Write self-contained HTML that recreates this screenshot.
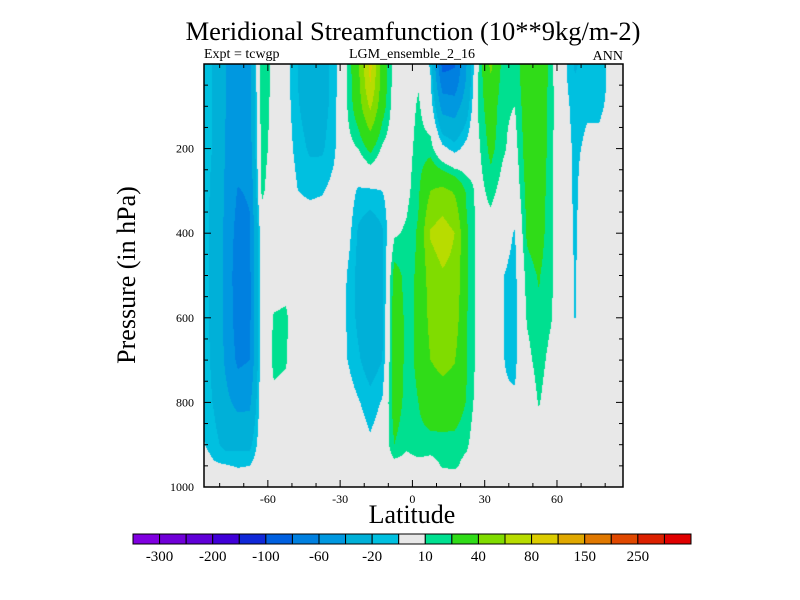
<!DOCTYPE html>
<html><head><meta charset="utf-8"><style>
body{margin:0;background:#fff;width:800px;height:600px;overflow:hidden;position:relative;font-family:"Liberation Serif",serif}
.t{position:absolute;white-space:nowrap;color:#000}
</style></head><body>
<div class="t" style="left:0;width:826px;text-align:center;top:16px;font-size:26.5px">Meridional Streamfunction (10**9kg/m-2)</div>
<div class="t" style="left:204px;top:47px;font-size:14px">Expt = tcwgp</div>
<div class="t" style="left:312px;width:200px;text-align:center;top:47px;font-size:14px">LGM_ensemble_2_16</div>
<div class="t" style="left:560px;width:63px;text-align:right;top:49px;font-size:14px">ANN</div>
<div class="t" style="left:27px;width:200px;text-align:center;top:260px;font-size:26px;transform:rotate(-90deg)">Pressure (in hPa)</div>
<div class="t" style="left:312px;width:200px;text-align:center;top:500px;font-size:26px">Latitude</div>
<canvas id="cv" width="800" height="600" style="position:absolute;left:0;top:0"></canvas>
<svg id="sv" width="800" height="600" style="position:absolute;left:0;top:0"></svg>
<script>
const lats=[-87.5,-82.5,-77.5,-72.5,-67.5,-62.5,-57.5,-52.5,-47.5,-42.5,-37.5,-32.5,-27.5,-22.5,-17.5,-12.5,-7.5,-2.5,2.5,7.5,12.5,17.5,22.5,27.5,32.5,37.5,42.5,47.5,52.5,57.5,62.5,67.5,72.5,77.5,82.5,87.5];
const pressures=[0,50,100,200,300,400,500,600,700,800,900,950,1000];
const psiByLat=[
[-14,-14,-14,-14,-14,-14,-14,-14,-13,-12,-8,-3,0],
[-21,-21,-21,-21,-23,-24,-24,-24,-23,-21,-15,-8,0],
[-40,-40,-40,-41,-43,-44,-45,-45,-43,-35,-25,-9,0],
[-48,-48,-50,-52,-61,-68,-72,-70,-64,-45,-24,-11,0],
[-45,-45,-46,-50,-58,-62,-64,-64,-60,-44,-24,-10,0],
[18,18,18,16,13,0,0,0,0,0,0,0,0],
[6,6,5,4,0,0,3,11,12,8,0,0,0],
[-5,-5,-4,-3,0,0,5,12,11,6,0,0,0],
[-20,-20,-19,-15,-10,-3,0,0,0,0,0,0,0],
[-28,-28,-27,-22,-12,-3,0,0,0,0,0,0,0],
[-28,-28,-27,-22,-11,-2,0,0,0,0,0,0,0],
[-15,-15,-14,-12,-6,0,0,0,0,0,0,0,0],
[8,8,8,5,0,-2,-9.5,-10,-9,-3,0,0,0],
[36,34,30,10,-12,-22,-24,-23,-18,-9,-3,0,0],
[88,80,64,24,-12,-30,-34,-33,-28,-15,-8,0,0],
[30,30,27,8,-10,-22,-24,-24,-20,-9,-3,0,0],
[4,4,3,2,0,8,26,30,30,28,20,5,0],
[2,2,2,4,6,12,16,17,17,16,12,5,0],
[5,9,12,15,18,22,22,22,22,20,16,6,0],
[-12,-8,-2,15,40,62,50,46,40,30,15,5,0],
[-88,-68,-48,-6,45,70,58,55,45,32,15,11,0],
[-82,-70,-50,-15,38,60,55,50,41,30,15,12,0],
[-40,-36,-28,-5,18,22,22,21,21,19,12,6,0],
[10,12,12,8,5,5,5,5,5,3,0,0,0],
[45,35,30,24,14,4,0,0,0,0,0,0,0],
[15,14,12,12,5,-4,-9.5,-9.5,-9.5,-9,-2,0,0],
[15,13,10,5,0,-11,-14,-14,-13,-8,-2,0,0],
[28,28,28,27,24,22,15,11,6,0,0,0,0],
[35,35,34,33,30,27,21,18,15,11,3,0,0],
[14,14,14,13,12,12,12,11,6,2,0,0,0],
[-5,-5,-4,-2,0,0,0,0,0,0,0,0,0],
[-22,-18,-15,-13,-13,-12,-11,-10.5,-3,0,0,0,0],
[-14,-13,-12,-7,0,0,0,0,0,0,0,0,0],
[-13,-13,-12,-7,0,0,0,0,0,0,0,0,0],
[-8,-8,-7,-3,0,0,0,0,0,0,0,0,0],
[0,0,0,0,0,0,0,0,0,0,0,0,0]];
const levels=[-300,-250,-200,-150,-100,-80,-60,-40,-20,-10,10,20,40,60,80,100,150,200,250,300];
const colors=["#8000e0","#7000d8","#6000d8","#4000d8","#1028d8","#0060e0","#0080e0","#0098e0","#00b0d8","#00c0e0","#e8e8e8","#00e090","#30dc18","#80dc00","#b8dc00","#dccc00","#e0a800","#e07800","#e04800","#dc2000","#e00000"];
const cbLabels=["-300","-200","-100","-60","-20","10","40","80","150","250"];
const xTicks=[-60,-30,0,30,60];
const yTicks=[200,400,600,800,1000];

const X0=204,X1=623,Y0=64,Y1=487,LAT0=-86.5,LAT1=87.4;
const xS=l=>X0+(l-LAT0)/(LAT1-LAT0)*(X1-X0);
const yS=p=>Y0+p/1000*(Y1-Y0);
const xInv=x=>LAT0+(x-X0)/(X1-X0)*(LAT1-LAT0);
const yInv=y=>(y-Y0)/(Y1-Y0)*1000;
function idx(arr,v){let i=0;while(i<arr.length-2&&v>arr[i+1])i++;let f=(v-arr[i])/(arr[i+1]-arr[i]);return [i,Math.max(0,Math.min(1,f))];}
function val(l,p){const [i,fx]=idx(lats,l),[j,fy]=idx(pressures,p);
 const a=psiByLat[i][j],b=psiByLat[i+1][j],c=psiByLat[i][j+1],d=psiByLat[i+1][j+1];
 return (a*(1-fx)+b*fx)*(1-fy)+(c*(1-fx)+d*fx)*fy;}
function cls(v){let k=0;while(k<levels.length&&v>=levels[k])k++;return k;}
const cv=document.getElementById('cv'),ctx=cv.getContext('2d');
const rgb=colors.map(c=>[parseInt(c.substr(1,2),16),parseInt(c.substr(3,2),16),parseInt(c.substr(5,2),16)]);
const W=X1-X0,H=Y1-Y0,img=ctx.createImageData(W,H);
for(let y=0;y<H;y++)for(let x=0;x<W;x++){const k=cls(val(xInv(X0+x+0.5),yInv(Y0+y+0.5)));const o=(y*W+x)*4;img.data[o]=rgb[k][0];img.data[o+1]=rgb[k][1];img.data[o+2]=rgb[k][2];img.data[o+3]=255;}
ctx.putImageData(img,X0,Y0);

const NS='http://www.w3.org/2000/svg',sv=document.getElementById('sv');
function mk(t,a){const e=document.createElementNS(NS,t);for(const k in a)e.setAttribute(k,a[k]);sv.appendChild(e);return e;}
let fr=mk('rect',{x:X0,y:Y0,width:W,height:H,fill:'none',stroke:'#000','stroke-width':1.5});


for(let l=-80;l<=80;l+=10){const maj=l%30===0,len=maj?7:4,x=xS(l);
 mk('line',{x1:x,x2:x,y1:Y1,y2:Y1-len,stroke:'#000'});mk('line',{x1:x,x2:x,y1:Y0,y2:Y0+len,stroke:'#000'});}
for(let p=50;p<1000;p+=50){const len=p%200===0?7:4,y=yS(p);
 mk('line',{x1:X0,x2:X0+len,y1:y,y2:y,stroke:'#000'});mk('line',{x1:X1,x2:X1-len,y1:y,y2:y,stroke:'#000'});}
xTicks.forEach(l=>{const t=mk('text',{x:xS(l),y:Y1+16,'text-anchor':'middle','font-size':12,'font-family':'Liberation Serif,serif'});t.textContent=l;
 
 });
yTicks.forEach(p=>{const t=mk('text',{x:X0-10,y:yS(p)+4,'text-anchor':'end','font-size':12,'font-family':'Liberation Serif,serif'});t.textContent=p;
 
 });
const CB0=133,CB1=691,bw=(CB1-CB0)/colors.length;
colors.forEach((c,i)=>{const r=mk('rect',{x:CB0+i*bw,y:534,width:bw,height:10,fill:c,stroke:'#000','stroke-width':1});
 
 });
cbLabels.forEach((s,i)=>{const t=mk('text',{x:CB0+(2*i+1)*bw,y:561,'text-anchor':'middle','font-size':15,'font-family':'Liberation Serif,serif'});t.textContent=s;
 
 });
</script>
</body></html>
